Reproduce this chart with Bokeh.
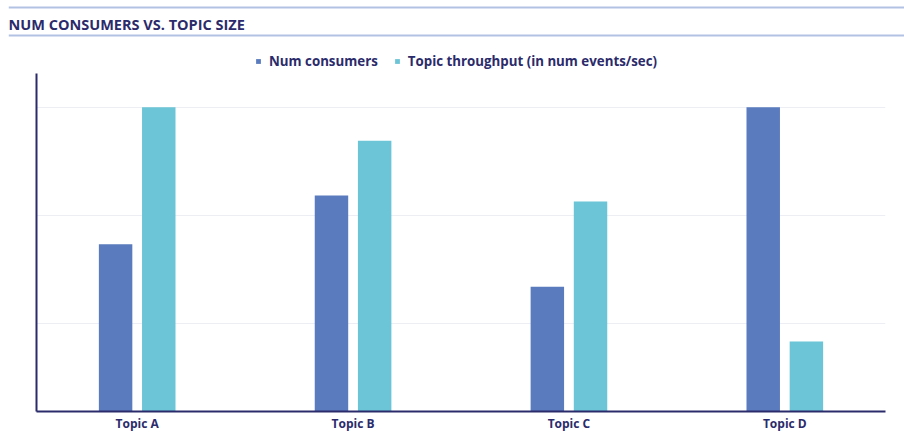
from bokeh.plotting import figure
from bokeh.layouts import column, row
from bokeh.models import (ColumnDataSource, FixedTicker, Legend, LegendItem,
                          Label, Span, Range1d)
from bokeh.transform import dodge
from bokeh.embed import file_html
from bokeh.resources import INLINE

# Chart data (relative scale, tallest bar = 100)
topics = ["Topic A", "Topic B", "Topic C", "Topic D"]
num_consumers = [55, 71, 41, 100]
throughput = [100, 89, 69, 23]
series_names = ["Num consumers", "Topic throughput (in num events/sec)"]
grid_values = [29, 64.5, 100]

NAVY = "#2b2b6b"
DARK_BLUE = "#5a7bbe"
CYAN = "#6bc5d6"
RULE = "#b2c2e3"
FONT = "Open Sans"

W = 904
HEADER_H = 73
HEADER_INDENT = 8
MAIN_H = 434 - HEADER_H

# ---- header strip: rules, chart title and the series key ----
header = figure(width=W, height=HEADER_H, output_backend="svg", toolbar_location=None,
                x_range=Range1d(0, W - HEADER_INDENT), y_range=Range1d(0, HEADER_H),
                min_border=0, min_border_left=HEADER_INDENT, outline_line_color=None)
header.title.visible = False
header.axis.visible = False
header.grid.visible = False
header.add_layout(Span(location=HEADER_H - 7, dimension="width",
                       line_color=RULE, line_width=2))
header.add_layout(Span(location=HEADER_H - 35, dimension="width",
                       line_color=RULE, line_width=2))
header.add_layout(Label(x=0, y=HEADER_H - 24, x_units="screen", y_units="screen",
                        text="NUM CONSUMERS VS. TOPIC SIZE",
                        text_font=FONT, text_font_style="bold",
                        text_font_size="14.5px", text_color=NAVY,
                        text_baseline="alphabetic"))

# key swatches take their colours from these zero-height bar renderers
key_src = ColumnDataSource(dict(x=[0], top=[0]))
k1 = header.vbar(x="x", top="top", width=1, source=key_src, fill_color=DARK_BLUE, line_color=None)
k2 = header.vbar(x="x", top="top", width=1, source=key_src, fill_color=CYAN, line_color=None)
legend = Legend(items=[LegendItem(label=series_names[0], renderers=[k1]),
                       LegendItem(label=series_names[1], renderers=[k2])],
                orientation="horizontal", location=(255 - HEADER_INDENT, 3),
                glyph_width=6, glyph_height=6, label_height=13,
                label_standoff=8, spacing=16, padding=0, margin=0,
                border_line_color=None, background_fill_alpha=0,
                label_text_font=FONT, label_text_font_style="bold",
                label_text_font_size="13.3px", label_text_color=NAVY)
header.add_layout(legend)

# ---- main bar chart ----
x = list(range(len(topics)))
source = ColumnDataSource(dict(x=x, consumers=num_consumers, throughput=throughput))

p = figure(width=W, height=MAIN_H, output_backend="svg", toolbar_location=None,
           x_range=Range1d(-0.4664, 3.4664), y_range=Range1d(0, 111.1),
           min_border_left=36, min_border_right=19,
           min_border_top=0, min_border_bottom=0,
           outline_line_color=None)
p.title.visible = False

bar_w = 0.155
p.vbar(x=dodge("x", -0.1, range=p.x_range), top="consumers", width=bar_w,
       source=source, fill_color=DARK_BLUE, line_color=None)
p.vbar(x=dodge("x", 0.1, range=p.x_range), top="throughput", width=bar_w,
       source=source, fill_color=CYAN, line_color=None)

p.xgrid.visible = False
p.ygrid.ticker = FixedTicker(ticks=grid_values)
p.ygrid.grid_line_color = "#eceef4"
p.ygrid.grid_line_width = 1

p.yaxis.ticker = FixedTicker(ticks=[])
p.yaxis.axis_line_color = NAVY
p.yaxis.axis_line_width = 2
p.yaxis.major_tick_line_color = None
p.yaxis.minor_tick_line_color = None
p.yaxis.major_tick_out = 0
p.yaxis.major_tick_in = 0

p.xaxis.ticker = FixedTicker(ticks=x)
p.xaxis.major_label_overrides = {i: t for i, t in enumerate(topics)}
p.xaxis.axis_line_color = NAVY
p.xaxis.axis_line_width = 2
p.xaxis.major_tick_line_color = None
p.xaxis.minor_tick_line_color = None
p.xaxis.major_tick_out = 0
p.xaxis.major_tick_in = 0
p.xaxis.major_label_standoff = 3
p.xaxis.major_label_text_font = FONT
p.xaxis.major_label_text_font_style = "bold"
p.xaxis.major_label_text_font_size = "12px"
p.xaxis.major_label_text_color = NAVY

layout = column(row(header), p, spacing=0)
open("out.html", "w").write(file_html(layout, INLINE))
